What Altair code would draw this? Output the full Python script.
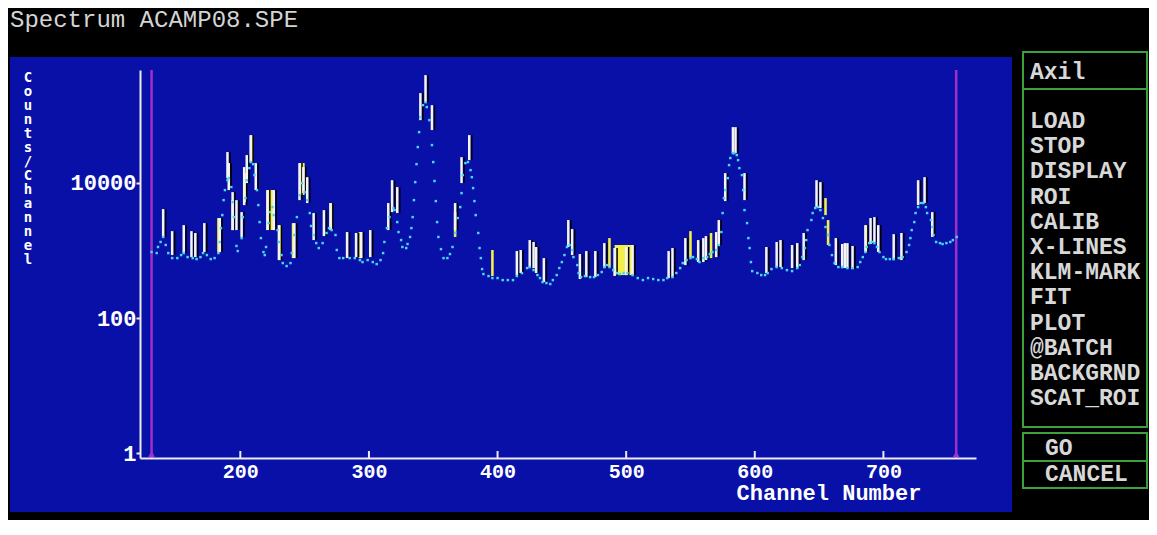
import altair as alt
import pandas as pd

# ---------------- data ----------------
channel = [
    131, 135, 136, 138, 140, 142, 144, 147, 151, 154,
    156, 159, 163, 166, 169, 171, 174, 177, 180, 183,
    184, 185, 186, 187, 188, 190, 191, 193, 194, 195,
    197, 198, 201, 202, 204, 205, 207, 208, 210, 211,
    213, 214, 215, 216, 218, 219, 220, 222, 223, 225,
    226, 229, 230, 232, 233, 236, 239, 240, 242, 244,
    246, 248, 250, 252, 254, 255, 257, 259, 261, 264,
    267, 269, 271, 274, 275, 277, 280, 285, 289, 293,
    295, 299, 303, 306, 309, 311, 312, 314, 316, 319,
    320, 322, 323, 325, 326, 329, 330, 332, 333, 334,
    335, 336, 337, 338, 339, 340, 342, 344, 345, 347,
    349, 350, 351, 352, 353, 354, 356, 358, 361, 363,
    365, 367, 369, 371, 372, 373, 375, 377, 379, 380,
    381, 382, 383, 385, 386, 387, 388, 389, 393, 396,
    400, 404, 408, 412, 415, 419, 423, 425, 428, 431,
    433, 435, 438, 441, 443, 446, 448, 450, 452, 454,
    456, 458, 459, 462, 463, 465, 468, 472, 475, 478,
    481, 483, 485, 487, 490, 493, 495, 498, 501, 505,
    509, 513, 517, 521, 525, 529, 532, 536, 539, 542,
    544, 547, 550, 552, 555, 557, 560, 563, 565, 567,
    570, 572, 574, 575, 576, 577, 579, 580, 581, 583,
    584, 586, 587, 588, 590, 591, 592, 594, 595, 596,
    597, 598, 602, 605, 608, 610, 613, 617, 621, 625,
    629, 633, 635, 637, 639, 640, 641, 644, 645, 647,
    649, 651, 653, 655, 657, 658, 660, 662, 665, 668,
    672, 676, 680, 682, 684, 686, 687, 689, 691, 693,
    695, 697, 700, 702, 705, 708, 712, 715, 718, 720,
    721, 722, 724, 725, 727, 729, 731, 733, 734, 737,
    738, 739, 741, 744, 746, 749, 752, 754, 757,
]
counts = [
    951, 919, 1130, 1340, 1590, 1210, 919, 774, 774, 858,
    919, 801, 774, 748, 801, 919, 858, 748, 774, 919,
    1340, 2150, 3350, 5580, 7850, 11000, 11800, 8700, 5220, 3130,
    1170, 984, 1530, 3130, 5980, 11000, 16600, 20400, 19000, 13100,
    7850, 4710, 2640, 1530, 951, 858, 1130, 2550, 3710, 4400,
    3350, 2010, 1340, 858, 653, 590, 653, 919, 1700, 3130,
    6620, 9970, 7330, 5580, 3590, 2310, 1700, 1290, 1090, 1290,
    1820, 2150, 2010, 1700, 1020, 774, 774, 774, 774, 723,
    676, 723, 676, 631, 723, 919, 1340, 2150, 3130, 4260,
    3970, 2640, 1880, 1430, 1130, 1090, 1250, 1590, 2150, 3130,
    5580, 10300, 19000, 34000, 56600, 94400, 142000, 157000, 133000, 85200,
    36400, 20400, 10700, 5400, 2640, 1590, 1050, 774, 774, 888,
    1130, 1820, 3030, 4400, 7090, 13100, 19700, 20400, 15500, 12200,
    8410, 5400, 3350, 1820, 1090, 774, 532, 449, 420, 392,
    392, 366, 366, 366, 420, 465, 551, 570, 514, 434,
    392, 342, 331, 320, 366, 434, 551, 676, 858, 1130,
    1210, 1020, 801, 610, 465, 405, 420, 405, 405, 434,
    481, 570, 610, 570, 514, 465, 449, 465, 465, 434,
    392, 366, 392, 379, 366, 366, 392, 405, 465, 551,
    653, 723, 774, 801, 748, 676, 774, 801, 888, 951,
    1020, 1210, 1880, 3590, 5980, 7850, 11800, 18400, 23400, 27700,
    27700, 25900, 21800, 16600, 13100, 7850, 3970, 2550, 1530, 1090,
    676, 497, 465, 434, 434, 465, 532, 570, 551, 514,
    497, 551, 610, 801, 1090, 1430, 2010, 2830, 3590, 4260,
    4400, 3970, 3030, 2230, 1700, 1210, 858, 653, 570, 570,
    551, 551, 570, 676, 801, 951, 1130, 1290, 1340, 1290,
    1130, 951, 801, 748, 748, 748, 774, 801, 951, 1210,
    1530, 2010, 2640, 3590, 4400, 5050, 5050, 4400, 3590, 2830,
    2230, 1700, 1340, 1290, 1250, 1290, 1340, 1430, 1590,
]

# line markers (white bars)
mark_ch = [140, 147, 156, 162, 165, 172, 184, 190, 191, 194,
           197, 201, 203, 205, 208, 212, 221, 226, 230, 242,
           246, 249, 252, 257, 265, 270, 283, 290, 294, 301,
           315, 318, 322, 340, 344, 349, 367, 372, 378, 415,
           418, 425, 428, 430, 436, 455, 458, 464, 469, 476,
           483, 491, 500, 505, 533, 536, 546, 556, 560, 562,
           570, 572, 577, 583, 585, 592, 609, 617, 620, 629,
           633, 638, 648, 651, 663, 668, 670, 672, 676, 686,
           690, 693, 696, 708, 714, 727, 732, 738]
mark_top = [4110, 1940, 2380, 1940, 1820, 2550, 3030, 28700, 19700, 7330,
            5580, 3710, 17200, 25900, 51100, 19700, 7850, 7850, 2380, 2550,
            19700, 17200, 12200, 3590, 3970, 5050, 1880, 1820, 1880, 2010,
            5050, 11000, 8700, 214000, 395000, 142000, 5050, 24100, 51100, 984,
            1020, 1430, 1340, 1130, 774, 2830, 2080, 888, 984, 984,
            1290, 1090, 1130, 1210, 984, 1090, 1530, 1430, 1530, 1640,
            1880, 2830, 14000, 67100, 67100, 14000, 1130, 1340, 1430, 1210,
            1290, 1820, 11000, 10300, 1530, 1250, 1290, 1290, 1170, 2380,
            3030, 3130, 2380, 1750, 1820, 11000, 12200, 3710]
mark_bot = [1590, 858, 919, 801, 801, 951, 951, 11800, 7850, 2010,
            2010, 1590, 4710, 9970, 20400, 7850, 2010, 2010, 723, 774,
            5580, 7090, 5050, 1430, 1640, 2010, 774, 801, 774, 801,
            2010, 3710, 3590, 85200, 157000, 60700, 2010, 9970, 21800, 434,
            465, 570, 551, 465, 342, 1130, 858, 379, 405, 405,
            551, 420, 434, 434, 392, 405, 610, 676, 676, 723,
            801, 1210, 5400, 27700, 27700, 5580, 465, 570, 570, 551,
            551, 723, 4400, 4260, 610, 551, 551, 551, 532, 951,
            1250, 1340, 951, 723, 723, 4710, 5050, 1590]

# yellow filled marker bands
fill_from = [182, 190, 193, 203, 208, 221, 230, 240, 246, 270, 292, 366, 395, 486, 491, 549, 565, 654, 656, 686]
fill_to = [185, 192, 195, 205, 210, 226, 232, 242, 250, 272, 294, 368, 397, 488, 505, 551, 567, 656, 658, 688]
fill_top = [3030, 19700, 5580, 14000, 51100, 7850, 2380, 2550, 19700, 5050, 1880, 3710, 1020, 1530, 1210, 1940, 1820, 5980, 2830, 2380]
fill_bot = [951, 11000, 2010, 5220, 20400, 2010, 723, 774, 6620, 2010, 774, 1590, 420, 570, 434, 801, 774, 3350, 1210, 951]

roi_bounds = [131, 756.6]
x_ticks = [200, 300, 400, 500, 600, 700]
y_ticks = [1, 100, 10000]

title_text = "Spectrum ACAMP08.SPE"
y_title = "Counts/Channel"
x_title = "Channel Number"
menu_head = "Axil"
menu_items = ["LOAD", "STOP", "DISPLAY", "ROI", "CALIB", "X-LINES", "KLM-MARK",
              "FIT", "PLOT", "@BATCH", "BACKGRND", "SCAT_ROI"]
btn_go = "GO"
btn_cancel = "CANCEL"

# ---------------- style ----------------
BLUE = "#0810a8"
CYAN = "#48d8f0"
YELLOW = "#f4ee48"
PURPLE = "#a030c8"
GREEN = "#3ca03c"
AXIS = "#ececec"
MENU_TXT = "#d8d8d8"
FONT = "Liberation Mono"
W, H = 836, 388

xs = alt.Scale(domain=[122, 772], nice=False, zero=False)
ys = alt.Scale(type="log", domain=[0.852, 470000], nice=False)

xaxis = alt.Axis(
    values=x_ticks, format="d", title=None, grid=False, ticks=False, tickSize=0,
    domainColor=AXIS, domainWidth=2, labelColor="#ffffff", labelFont=FONT,
    labelFontSize=20, labelFontWeight="bold", labelPadding=19,
    labelBaseline="alphabetic", labelFlush=False, labelOverlap=False, zindex=1)
yaxis = alt.Axis(
    values=y_ticks, format="d", title=None, grid=False, tickSize=4, tickWidth=2,
    tickColor=AXIS, domainColor=AXIS, domainWidth=2, labelColor="#ffffff",
    labelFont=FONT, labelFontSize=22, labelFontWeight="bold", labelPadding=0,
    labelBaseline="middle", labelFlush=False, labelOverlap=False, zindex=1)


def X(field):
    return alt.X(field, scale=xs, axis=xaxis)


def Y(field):
    return alt.Y(field, scale=ys, axis=yaxis)


one = pd.DataFrame({"k": [0]})
spec_df = pd.DataFrame({"ch": channel, "counts": counts})
marks_df = pd.DataFrame({"ch": mark_ch, "top": mark_top, "bot": mark_bot})
fill_df = pd.DataFrame({"c1": fill_from, "c2": fill_to, "top": fill_top, "bot": fill_bot})
roi_df = pd.DataFrame({"ch": roi_bounds})
tick_df = pd.DataFrame({"t": x_ticks})

panel = alt.Chart(one).mark_rect(color=BLUE).encode(
    x=alt.value(-130), x2=alt.value(872), y=alt.value(-13), y2=alt.value(442)
)

roi = alt.Chart(roi_df).mark_rule(color=PURPLE, strokeWidth=2.5).encode(x=X("ch:Q"))
roi_tri = alt.Chart(roi_df).mark_point(shape="triangle-up", filled=True, size=45,
                                       color=PURPLE, opacity=1).encode(
    x=X("ch:Q"), y=alt.value(H - 4)
)

fills = alt.Chart(fill_df).mark_rect(color=YELLOW).encode(
    x=X("c1:Q"), x2="c2:Q", y=Y("top:Q"), y2="bot:Q"
)

shadow = alt.Chart(marks_df).mark_rule(color="#000000", strokeWidth=1.5, xOffset=2.5).encode(
    x=X("ch:Q"), y=Y("top:Q"), y2="bot:Q"
)
bars = alt.Chart(marks_df).mark_rule(color="#f4f4f4", strokeWidth=2.5).encode(
    x=X("ch:Q"), y=Y("top:Q"), y2="bot:Q"
)

xticks_in = alt.Chart(tick_df).mark_rule(color=AXIS, strokeWidth=2).encode(
    x=X("t:Q"), y=alt.value(H - 7), y2=alt.value(H)
)

dots = alt.Chart(spec_df).mark_square(size=6, color=CYAN, opacity=1).encode(
    x=X("ch:Q"), y=Y("counts:Q")
)

title_l = alt.Chart(one).mark_text(align="left", baseline="alphabetic", font=FONT,
                                   fontSize=24, color="#d4d4d4").encode(
    text=alt.value(title_text), x=alt.value(-130), y=alt.value(-43))

ytitle_l = alt.Chart(one).mark_text(align="center", baseline="top", font="DejaVu Sans Mono",
                                    fontSize=14, fontWeight="bold", lineHeight=14,
                                    color="#ffffff").encode(
    text=alt.value(list(y_title)), x=alt.value(-112), y=alt.value(1))

xtitle_l = alt.Chart(one).mark_text(align="center", baseline="alphabetic", font=FONT,
                                    fontSize=22, fontWeight="bold", color="#ffffff").encode(
    text=alt.value(x_title), x=alt.value(689), y=alt.value(430))

head_l = alt.Chart(one).mark_text(align="left", baseline="alphabetic", font=FONT, fontSize=23,
                                  fontWeight="bold", color=MENU_TXT).encode(
    text=alt.value(menu_head), x=alt.value(890), y=alt.value(9))

items_l = alt.Chart(one).mark_text(align="left", baseline="top", font=FONT, fontSize=23,
                                   fontWeight="bold", lineHeight=25.2, color=MENU_TXT).encode(
    text=alt.value(menu_items), x=alt.value(890), y=alt.value(40))

go_l = alt.Chart(one).mark_text(align="left", baseline="alphabetic", font=FONT, fontSize=23,
                                fontWeight="bold", color=MENU_TXT).encode(
    text=alt.value(btn_go), x=alt.value(905), y=alt.value(385))
cancel_l = alt.Chart(one).mark_text(align="left", baseline="alphabetic", font=FONT, fontSize=23,
                                    fontWeight="bold", color=MENU_TXT).encode(
    text=alt.value(btn_cancel), x=alt.value(905), y=alt.value(411))


def box(x1, y1, x2, y2):
    return alt.Chart(one).mark_rect(filled=False, stroke=GREEN, strokeWidth=2).encode(
        x=alt.value(x1), x2=alt.value(x2), y=alt.value(y1), y2=alt.value(y2))


boxes = [box(883, -18, 1007, 19), box(883, 19, 1007, 357),
         box(883, 363, 1007, 391), box(883, 391, 1007, 418)]

chart = alt.layer(
    panel, roi, roi_tri, fills, shadow, bars, xticks_in, dots,
    title_l, ytitle_l, xtitle_l, head_l, items_l, go_l, cancel_l, *boxes
).properties(
    width=W, height=H,
    padding={"left": 132, "top": 62, "right": 173, "bottom": 62},
    autosize=alt.AutoSizeParams(type="none"),
    background="#000000",
).configure_view(strokeWidth=0)

chart.save("out.html", embed_options={"renderer": "svg", "actions": False})
